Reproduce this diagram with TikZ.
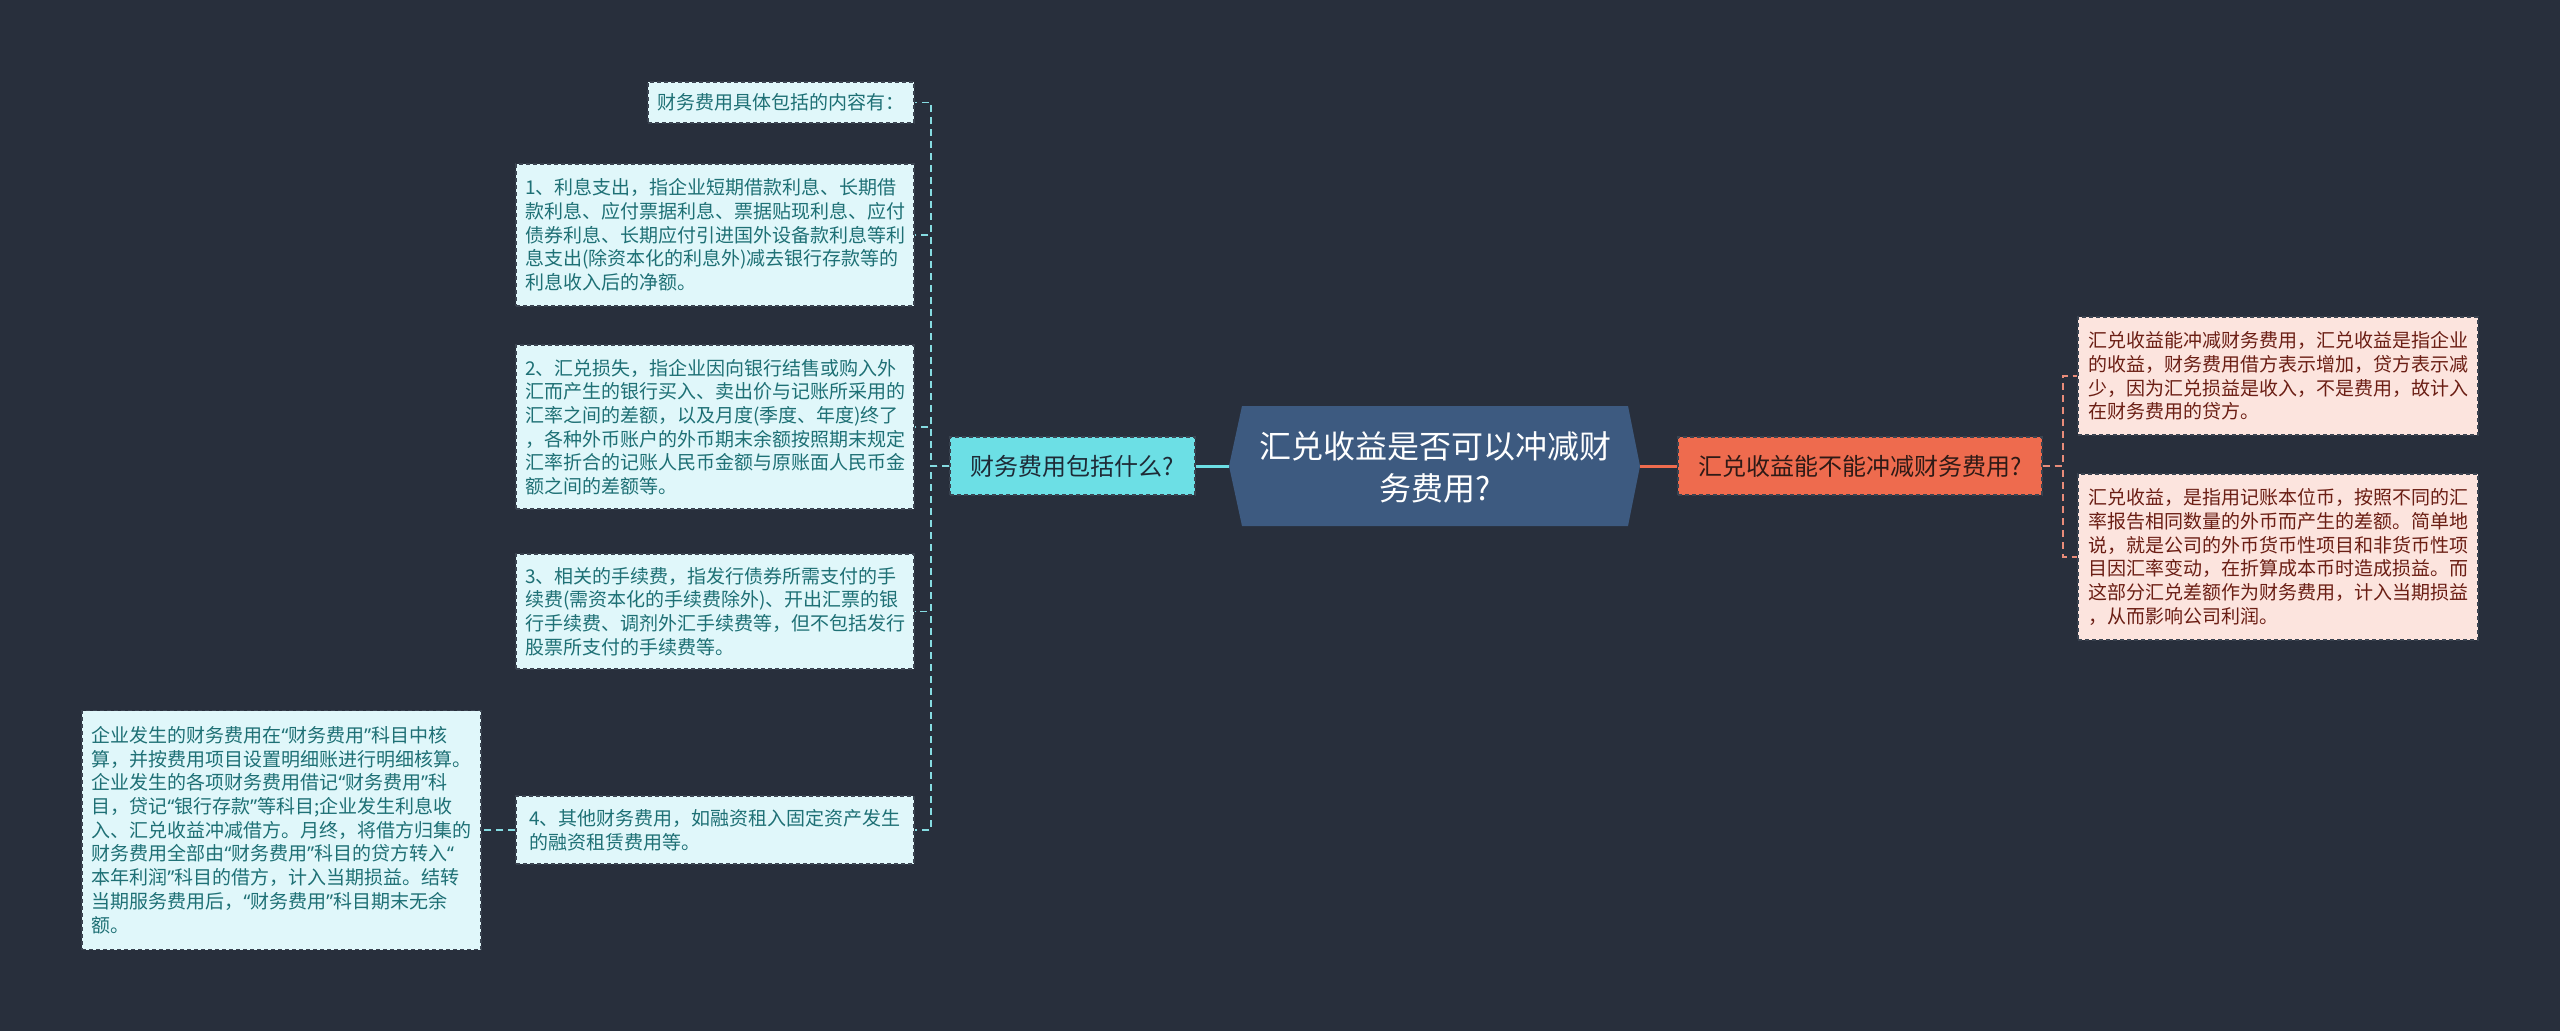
\documentclass[tikz,border=0pt]{standalone}
\usepackage{fontspec}
\newfontfamily\cjk{Noto Sans CJK SC}
\newfontfamily\latq{Noto Sans}
\newcommand{\myLQ}{{\latq “}}
\newcommand{\myRQ}{{\latq ”}}
\definecolor{bg}{HTML}{282F3C}
\definecolor{hexfill}{HTML}{3D5A80}
\definecolor{cyanb}{HTML}{6CDFE5}
\definecolor{leafLfill}{HTML}{E0F7FA}
\definecolor{leafLtext}{HTML}{1E7075}
\definecolor{orangeb}{HTML}{EE6B4E}
\definecolor{leafRfill}{HTML}{FCE4DE}
\definecolor{leafRtext}{HTML}{6B1E14}
\definecolor{bordc}{HTML}{3A4350}
\definecolor{conLc}{HTML}{86DCE2}
\definecolor{conRc}{HTML}{E98C7A}
\definecolor{brLtext}{HTML}{1E2A36}
\definecolor{brRtext}{HTML}{2E1A16}
\begin{document}
\begin{tikzpicture}[x=1pt,y=-1pt,
  boxbase/.style={draw=bordc, dash pattern=on 4pt off 3pt, line width=1.3pt, align=left, inner sep=0pt},
  leafL/.style={boxbase, fill=leafLfill, text=leafLtext, font=\cjk\fontsize{19}{23.7}\selectfont},
  leafR/.style={boxbase, fill=leafRfill, text=leafRtext, font=\cjk\fontsize{19}{23.7}\selectfont},
  branchL/.style={boxbase, align=center, fill=cyanb, text=brLtext, font=\cjk\fontsize{24}{30}\selectfont},
  branchR/.style={boxbase, align=center, fill=orangeb, text=brRtext, font=\cjk\fontsize{24}{30}\selectfont},
  conL/.style={draw=conLc, line width=1.8pt, dash pattern=on 7pt off 5pt},
  conR/.style={draw=conRc, line width=1.8pt, dash pattern=on 7pt off 5pt},
  mainL/.style={draw=cyanb, line width=3pt},
  mainR/.style={draw=orangeb, line width=3pt}
]
\fill[bg] (0,0) rectangle (2560,1031);
\useasboundingbox (0,0) rectangle (2560,1031);

% center hexagon
\fill[hexfill] (1229,466) -- (1242,406) -- (1628,406) -- (1640,466) -- (1628,526) -- (1242,526) -- cycle;
\coordinate (cl) at (1229,466);
\coordinate (cr) at (1640,466);
\node[text=white, align=center, font=\cjk\fontsize{32}{42}\selectfont, inner sep=0pt] (c) at (1435,467) {汇兑收益是否可以冲减财\\务费用?};

% branches
\node[branchL, minimum width=245pt, minimum height=58pt] (lb) at (1072.5,466) {财务费用包括什么?};
\node[branchR, minimum width=364pt, minimum height=58pt] (rb) at (1860,466) {汇兑收益能不能冲减财务费用?};

% left leaves
\node[leafL, minimum width=266pt, minimum height=41pt] (l0) at (781,102.5) {财务费用具体包括的内容有：};
\node[leafL, minimum width=398pt, minimum height=142pt] (l1) at (715,235) {1、利息支出，指企业短期借款利息、长期借\\款利息、应付票据利息、票据贴现利息、应付\\债券利息、长期应付引进国外设备款利息等利\\息支出(除资本化的利息外)减去银行存款等的\\利息收入后的净额。};
\node[leafL, minimum width=398pt, minimum height=164pt] (l2) at (715,427) {2、汇兑损失，指企业因向银行结售或购入外\\汇而产生的银行买入、卖出价与记账所采用的\\汇率之间的差额，以及月度(季度、年度)终了\\，各种外币账户的外币期末余额按照期末规定\\汇率折合的记账人民币金额与原账面人民币金\\额之间的差额等。};
\node[leafL, minimum width=398pt, minimum height=115pt] (l3) at (715,611.5) {3、相关的手续费，指发行债券所需支付的手\\续费(需资本化的手续费除外)、开出汇票的银\\行手续费、调剂外汇手续费等，但不包括发行\\股票所支付的手续费等。};
\node[leafL, minimum width=398pt, minimum height=68pt] (l4) at (715,830) {4、其他财务费用，如融资租入固定资产发生\\的融资租赁费用等。};
\node[leafL, minimum width=399pt, minimum height=239pt] (ll) at (281.5,830) {企业发生的财务费用在\myLQ 财务费用\myRQ 科目中核\\算，并按费用项目设置明细账进行明细核算。\\企业发生的各项财务费用借记\myLQ 财务费用\myRQ 科\\目，贷记\myLQ 银行存款\myRQ 等科目;企业发生利息收\\入、汇兑收益冲减借方。月终，将借方归集的\\财务费用全部由\myLQ 财务费用\myRQ 科目的贷方转入\myLQ\\本年利润\myRQ 科目的借方，计入当期损益。结转\\当期服务费用后，\myLQ 财务费用\myRQ 科目期末无余\\额。};

% right leaves
\node[leafR, minimum width=400pt, minimum height=118pt] (r1) at (2278,376) {汇兑收益能冲减财务费用，汇兑收益是指企业\\的收益，财务费用借方表示增加，贷方表示减\\少，因为汇兑损益是收入，不是费用，故计入\\在财务费用的贷方。};
\node[leafR, minimum width=400pt, minimum height=166pt] (r2) at (2278,557) {汇兑收益，是指用记账本位币，按照不同的汇\\率报告相同数量的外币而产生的差额。简单地\\说，就是公司的外币货币性项目和非货币性项\\目因汇率变动，在折算成本币时造成损益。而\\这部分汇兑差额作为财务费用，计入当期损益\\，从而影响公司利润。};

% main connectors
\draw[mainL] (cl) -- (lb.east);
\draw[mainR] (cr) -- (rb.west);

% left connectors
\foreach \n in {l0,l1,l2,l3,l4}
  \draw[conL] (lb.west) -- ++(-18,0) |- (\n.east);
\draw[conL] (l4.west) -- (ll.east);

% right connectors
\foreach \n in {r1,r2}
  \draw[conR] (rb.east) -- ++(20,0) |- (\n.west);
\end{tikzpicture}
\end{document}
